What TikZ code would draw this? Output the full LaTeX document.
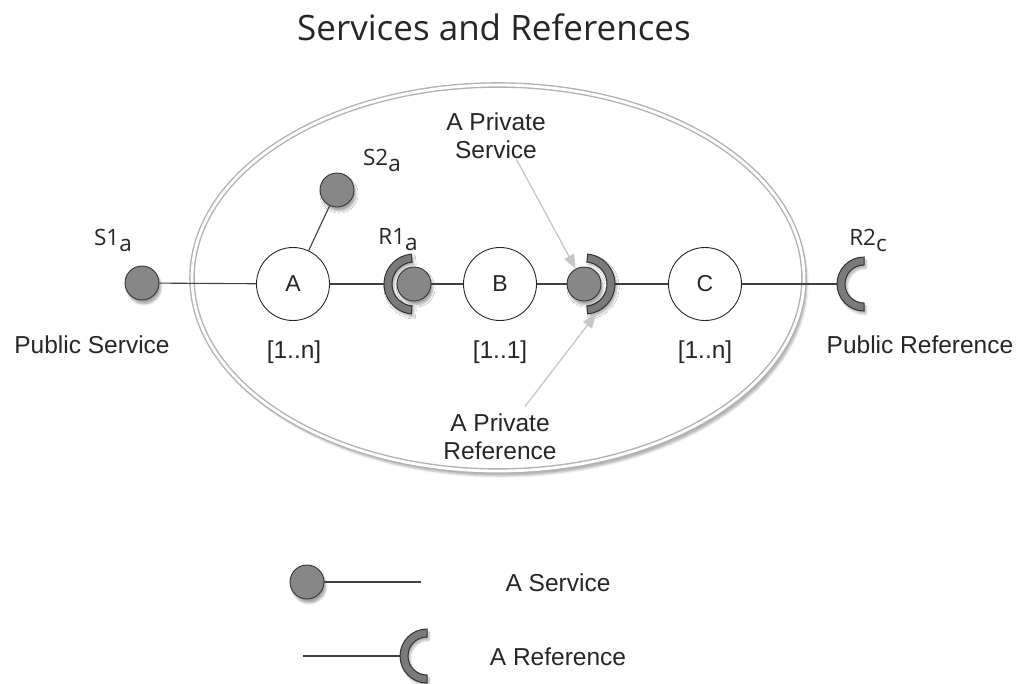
\documentclass[tikz,border=0pt]{standalone}
\usepackage{fontspec}
\setmainfont{Liberation Sans}
\newfontfamily\titlefont{Open Sans}
\usetikzlibrary{shapes.geometric,shadows.blur,arrows.meta}

% half-ring "reference" socket: center, start angle, end angle, outer radius, inner radius
\newcommand\cupshape[5]{%
  \path[cupfill] ([shift={(#2:#4)}]#1) arc[start angle=#2, end angle=#3, radius=#4]
    -- ([shift={(#3:#5)}]#1) arc[start angle=#3, end angle=#2, radius=#5] -- cycle;}

\begin{document}
\begin{tikzpicture}[x=1pt,y=-1pt,
  svc/.style={circle, draw=black!80, fill=black!47, line width=0.9pt, minimum size=34pt, inner sep=0pt,
    blur shadow={shadow xshift=2pt, shadow yshift=-4pt, shadow blur steps=6, shadow opacity=35}},
  comp/.style={circle, draw=black!85, fill=white, line width=0.9pt, minimum size=73pt, inner sep=0pt,
    font=\fontsize{23}{23}\selectfont, text=black!85},
  wire/.style={draw=black!75, line width=1.1pt},
  lbl/.style={font=\fontsize{24.5}{28}\selectfont, text=black!85, align=center},
  sub/.style={font=\titlefont\fontsize{22.5}{22.5}\selectfont, text=black!85},
  pointer/.style={draw=black!22, line width=1.3pt, -{Triangle[length=14pt,width=11pt]}},
  cupfill/.style={draw=black!80, fill=black!52, line width=1pt,
    blur shadow={shadow xshift=2pt, shadow yshift=-3pt, shadow blur steps=6, shadow opacity=30}}
]
\useasboundingbox (0,0) rectangle (1020,683);

% title
\node[font=\titlefont\fontsize{35}{35}\selectfont, text=black!85] (title) at (494,27) {Services and References};

% composite boundary
\node[ellipse, minimum width=612pt, minimum height=386pt, fill=white,
      draw=black!30, double=white, double distance=2.8pt, line width=1.4pt,
      blur shadow={shadow xshift=3pt, shadow yshift=-5pt, shadow opacity=30}] (composite) at (498,278) {};

% components
\node[comp] (A) at (293,284) {A};
\node[comp] (B) at (500,284) {B};
\node[comp] (C) at (705,284) {C};

% sockets and their attachment points
\coordinate (r1c) at (384,284);
\coordinate (psc) at (615,284);
\coordinate (r2c) at (837,284);
\coordinate (prend) at (596,314);

% wiring
\draw[wire] (A) -- (r1c);
\draw[wire] (psc) -- (C);
\draw[wire] (C) -- (r2c);

\coordinate (r1center) at (414,284);
\coordinate (pscenter) at (585,284);
\coordinate (r2center) at (864,284);
\cupshape{r1center}{95}{265}{30}{22}
\cupshape{pscenter}{-85}{85}{30}{22}
\cupshape{r2center}{90}{270}{27}{19}

% services
\node[svc] (s1) at (142,283) {};
\node[svc] (s2) at (337,190) {};
\node[svc] (r1) at (414,284) {};
\node[svc] (ps) at (584,284) {};

\draw[wire] (s1) -- (A);
\draw[wire] (A) -- (s2);
\draw[wire] (r1) -- (B);
\draw[wire] (B) -- (ps);

% labels
\node[sub] (s1l) at (113,240) {S1\raisebox{-6pt}{a}};
\node[sub] (s2l) at (382,160) {S2\raisebox{-6pt}{a}};
\node[sub] (r1l) at (398,240) {R1\raisebox{-6pt}{a}};
\node[sub] (r2l) at (868,240) {R2\raisebox{-6pt}{c}};

\node[lbl] (pubs) at (92,345) {Public Service};
\node[lbl] (pubr) at (920,345) {Public Reference};
\node[lbl] (mA) at (294,352) {[1..n]};
\node[lbl] (mB) at (500,352) {[1..1]};
\node[lbl] (mC) at (705,352) {[1..n]};

\node[lbl] (psl) at (496,136) {A Private\\Service};
\node[lbl] (prl) at (500,437) {A Private\\Reference};
\draw[pointer] (psl.south) ++(20,-4) -- (ps);
\draw[pointer] (prl.north) ++(25,-4) -- (prend);

% legend
\node[svc] (legs) at (307,582) {};
\coordinate (legsend) at (421,582);
\draw[wire] (legs) -- (legsend);
\node[lbl] (legst) at (558,583) {A Service};

\coordinate (legrstart) at (303,656);
\coordinate (legrc) at (400,656);
\coordinate (legrcenter) at (427,656);
\draw[wire] (legrstart) -- (legrc);
\cupshape{legrcenter}{90}{270}{27}{19}
\node[lbl] (legrt) at (558,657) {A Reference};
\end{tikzpicture}
\end{document}
